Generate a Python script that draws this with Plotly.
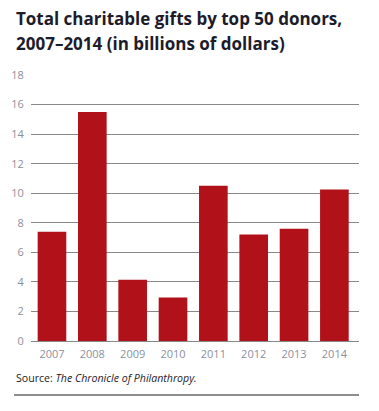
import plotly.graph_objects as go

years = ["2007", "2008", "2009", "2010", "2011", "2012", "2013", "2014"]
gifts = [7.4, 15.5, 4.15, 2.95, 10.5, 7.2, 7.6, 10.25]
y_ticks = [0, 2, 4, 6, 8, 10, 12, 14, 16, 18]

# page body has an 8px margin; compensate so the window matches the reference
OFF = 8
W, H = 379 - OFF, 411 - OFF
L, R, T, B = 31 - OFF, 20, 75 - OFF, 70
pw, ph = W - L - R, H - T - B

def px_x(x):
    return (x - OFF - L) / pw

def px_y(y):
    return (H - B - (y - OFF)) / ph

fig = go.Figure(go.Bar(
    x=list(range(len(years))), y=gifts,
    marker=dict(color="#b11219", line=dict(width=0)),
    width=0.71,
))

title_font = dict(family="Open Sans", size=17, color="#1c1c2a")
tick_color = "#8c909e"

fig.update_layout(
    width=W, height=H,
    margin=dict(l=L, r=R, t=T, b=B, pad=0),
    paper_bgcolor="white", plot_bgcolor="white",
    showlegend=False,
    font=dict(family="Open Sans", color=tick_color),
    xaxis=dict(
        range=[-0.52, 7.61], automargin=False,
        tickmode="array", tickvals=list(range(len(years))), ticktext=years,
        showgrid=False, zeroline=False, showline=False,
        tickfont=dict(size=11, color=tick_color),
        ticks="outside", ticklen=3, tickcolor="rgba(0,0,0,0)",
    ),
    yaxis=dict(
        range=[0, 18], automargin=False,
        tickmode="array", tickvals=y_ticks,
        showgrid=True, gridcolor="#888888", gridwidth=1, griddash="solid",
        zeroline=True, zerolinecolor="#888888", zerolinewidth=1,
        showline=False,
        tickfont=dict(size=11, color=tick_color),
        ticks="outside", ticklen=4, tickcolor="rgba(0,0,0,0)",
    ),
    annotations=[
        dict(text="<b>Total charitable gifts by top 50 donors,</b>",
             xref="paper", yref="paper", x=px_x(14), y=px_y(18),
             xanchor="left", yanchor="middle", showarrow=False, font=title_font),
        dict(text="<b>2007–2014 (in billions of dollars)</b>",
             xref="paper", yref="paper", x=px_x(14), y=px_y(43),
             xanchor="left", yanchor="middle", showarrow=False, font=title_font),
        dict(text="Source: <i>The Chronicle of Philanthropy.</i>",
             xref="paper", yref="paper", x=px_x(14), y=px_y(378),
             xanchor="left", yanchor="middle", showarrow=False,
             font=dict(family="Open Sans", size=10.6, color="#1c1c2a")),
    ],
    shapes=[dict(
        type="line", xref="paper", yref="paper",
        x0=px_x(14), x1=px_x(359), y0=px_y(395), y1=px_y(395),
        line=dict(color="#1c1c1c", width=1),
    )],
)

fig.write_html("out.html")
